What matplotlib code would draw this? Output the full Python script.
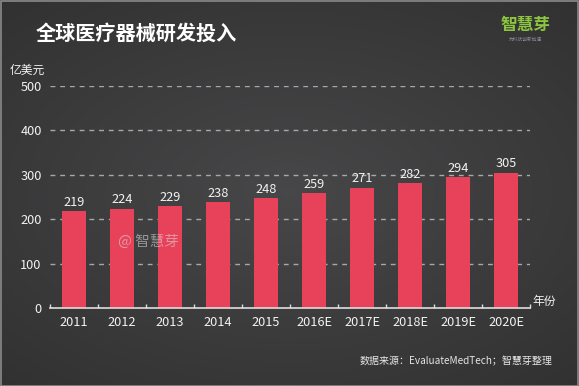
import numpy as np
import matplotlib
matplotlib.use('Agg')
import matplotlib.pyplot as plt
from matplotlib.ticker import FixedLocator

plt.rcParams['font.family'] = ['Noto Sans CJK SC', 'DejaVu Sans']

## data
years = ['2011', '2012', '2013', '2014', '2015', '2016E', '2017E', '2018E', '2019E', '2020E']
spend = [219, 224, 229, 238, 248, 259, 271, 282, 294, 305]
yticks = [0, 100, 200, 300, 400, 500]

title = '全球医疗器械研发投入'
unit = '亿美元'
xname = '年份'
source = '数据来源：EvaluateMedTech；智慧芽整理'

bar_color = '#e8415a'
text_color = '#f2f2f2'

fig = plt.figure(figsize=(5.79, 3.86), dpi=100)

# radial gradient background
bg = fig.add_axes([0, 0, 1, 1], zorder=-1)
yy, xx = np.mgrid[-1:1:386j, -1:1:579j]
r = np.sqrt((xx * 0.9) ** 2 + (yy * 1.0) ** 2)
shade = 0.28 - 0.09 * np.clip(r / 1.4, 0, 1)
img = np.dstack([shade, shade, shade * 1.02])
bg.imshow(np.clip(img, 0, 1), aspect='auto', extent=[0, 1, 0, 1])
bg.add_patch(plt.Rectangle((0.001, 0.001), 0.997, 0.996, fill=False,
                           edgecolor='#8a8a8a', lw=1.2))
bg.set_xlim(0, 1)
bg.set_ylim(0, 1)
bg.axis('off')

ax = fig.add_axes([50 / 579, 1 - 308 / 386, 480 / 579, 222 / 386])
ax.patch.set_alpha(0)
x = np.arange(len(years))
bars = ax.bar(x, spend, width=0.5, color=bar_color, zorder=3)
for xi, v in zip(x, spend):
    ax.text(xi, v + 5, str(v), ha='center', va='bottom', color=text_color,
            fontsize=9.2, zorder=4)

ax.set_xlim(-0.5, len(years) - 0.5)
ax.set_ylim(0, 500)
ax.set_yticks(yticks)
ax.yaxis.grid(True, color='#a8a8a8', linestyle=(0, (3.5, 3.5)), lw=1, zorder=1)
ax.set_axisbelow(True)
ax.tick_params(axis='y', length=0, labelcolor=text_color, labelsize=9.2, pad=6)

ax.set_xticks(x)
ax.set_xticklabels(years)
ax.tick_params(axis='x', which='major', length=0, labelcolor=text_color,
               labelsize=9.2, pad=6)
ax.xaxis.set_minor_locator(FixedLocator(np.arange(-0.5, len(years), 1.0)))
ax.tick_params(axis='x', which='minor', direction='in', length=3,
               color='#dddddd', width=1)

for s in ['top', 'right', 'left']:
    ax.spines[s].set_visible(False)
ax.spines['bottom'].set_color('#dddddd')
ax.spines['bottom'].set_linewidth(1.2)
ax.spines['bottom'].set_zorder(5)

ax.text(1.005, 0.0, xname, transform=ax.transAxes, ha='left', va='bottom',
        color=text_color, fontsize=8.5)
fig.text(45 / 579, 1 - 70 / 386, unit, ha='right', va='center',
         color=text_color, fontsize=8.5)

fig.text(36 / 579, 1 - 33 / 386, title, ha='left', va='center',
         color='white', fontsize=14.5, fontweight='bold')

# logo
fig.text(525 / 579, 1 - 25 / 386, '智慧芽', ha='center', va='center',
         color='#8cc63f', fontsize=12, fontweight='bold')
fig.text(525 / 579, 1 - 39 / 386, '为科技创新加速', ha='center', va='center',
         color='#8a8a9a', fontsize=3.4)

# watermark
fig.text(148 / 579, 1 - 242 / 386, '@ 智慧芽', ha='center', va='center',
         color='#dddddd', alpha=0.55, fontsize=10.5, zorder=10)

fig.text(552 / 579, 1 - 361 / 386, source, ha='right', va='center',
         color='#e6e6e6', fontsize=7.2)

fig.savefig('out.png', dpi=100)
